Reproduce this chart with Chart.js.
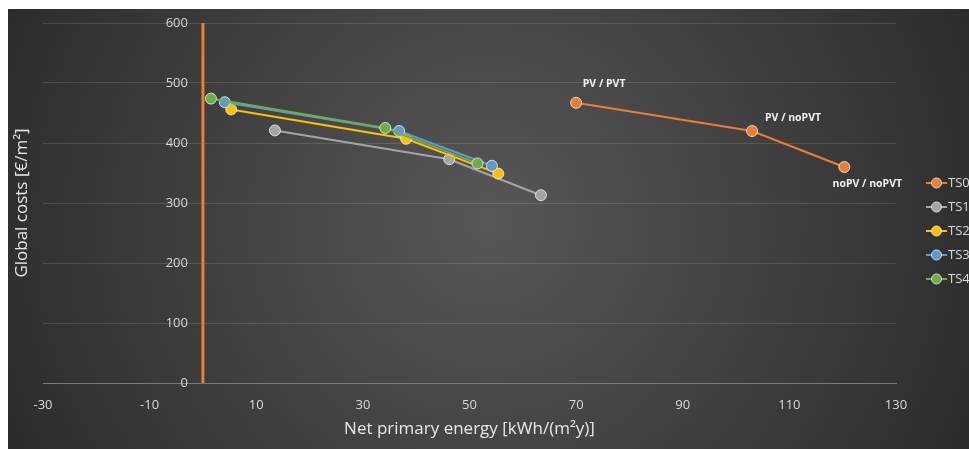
<!DOCTYPE html>
<html>
<head>
<meta charset="utf-8">
<script src="https://cdn.jsdelivr.net/npm/chart.js@4"></script>
<style>
	body { margin: 0; background: #ffffff; }
	.chart { position: absolute; left: 8px; top: 9px; width: 961px; height: 440px; }
</style>
</head>
<body>
<div class="chart"><canvas id="chartEnergy"></canvas></div>
<script>
const seriesNames = ['TS0', 'TS1', 'TS2', 'TS3', 'TS4'];
const seriesColors = ['#ED7D31', '#A5A5A5', '#FFC000', '#5B9BD5', '#70AD47'];

const ts0Energy = [70, 103, 120.3];
const ts0Costs = [467, 420, 360];
const ts0Labels = ['PV / PVT', 'PV / noPVT', 'noPV / noPVT'];

const ts1Energy = [13.5, 46.2, 63.4];
const ts1Costs = [421, 373, 313];

const ts2Energy = [5.3, 38.1, 55.4];
const ts2Costs = [456, 407, 349];

const ts3Energy = [4.1, 36.8, 54.2];
const ts3Costs = [468, 420, 362];

const ts4Energy = [1.5, 34.2, 51.5];
const ts4Costs = [474, 425, 366];

const zeroLineEnergy = [0, 0];
const zeroLineCosts = [0, 600];

const xTitle = 'Net primary energy [kWh/(m\u00B2y)]';
const yTitle = 'Global costs [\u20AC/m\u00B2]';

const toPoints = (xs, ys) => xs.map((x, i) => ({ x, y: ys[i] }));

const allEnergy = [ts0Energy, ts1Energy, ts2Energy, ts3Energy, ts4Energy];
const allCosts = [ts0Costs, ts1Costs, ts2Costs, ts3Costs, ts4Costs];

const datasets = seriesNames.map((name, i) => ({
	label: name,
	data: toPoints(allEnergy[i], allCosts[i]),
	borderColor: seriesColors[i],
	backgroundColor: seriesColors[i],
	pointBackgroundColor: seriesColors[i],
	pointBorderColor: 'rgba(235,235,235,0.85)',
	pointBorderWidth: 1,
	pointRadius: 5.5,
	borderWidth: 2,
	showLine: true,
	order: seriesNames.length - i,
}));

datasets.push({
	label: 'zero',
	data: toPoints(zeroLineEnergy, zeroLineCosts),
	borderColor: '#ED7D31',
	borderWidth: 3,
	pointRadius: 0,
	showLine: true,
	order: 10,
});

const fontFamily = "'Open Sans', 'Noto Sans', sans-serif";

const backgroundPlugin = {
	id: 'bg',
	beforeDraw: (chart) => {
		const { ctx, width, height } = chart;
		const g = ctx.createRadialGradient(width * 0.5, height * 0.48, 0, width * 0.5, height * 0.48, width * 0.56);
		g.addColorStop(0, '#575757');
		g.addColorStop(1, '#2b2b2b');
		ctx.save();
		ctx.fillStyle = g;
		ctx.fillRect(0, 0, width, height);
		ctx.restore();
	},
};

const extrasPlugin = {
	id: 'extras',
	afterDatasetsDraw: (chart) => {
		const { ctx, chartArea } = chart;
		const xScale = chart.scales.x;
		const yScale = chart.scales.y;
		ctx.save();

		// y tick labels, beside the axis at x = 0
		ctx.font = `13px ${fontFamily}`;
		ctx.fillStyle = '#d9d9d9';
		ctx.textAlign = 'right';
		ctx.textBaseline = 'middle';
		const axisX = xScale.getPixelForValue(0);
		yScale.ticks.forEach((t) => {
			ctx.fillText(t.label, axisX - 15, yScale.getPixelForValue(t.value));
		});

		// point labels for TS0
		const offsets = [[28, -19], [41, -13], [23, 17]];
		const meta = chart.getDatasetMeta(0);
		ctx.font = `bold 10.5px ${fontFamily}`;
		ctx.fillStyle = '#f2f2f2';
		ctx.textAlign = 'center';
		meta.data.forEach((pt, i) => {
			ctx.fillText(ts0Labels[i], pt.x + offsets[i][0], pt.y + offsets[i][1]);
		});

		// y axis title
		ctx.translate(14, (chartArea.top + chartArea.bottom) / 2);
		ctx.rotate(-Math.PI / 2);
		ctx.font = `17px ${fontFamily}`;
		ctx.fillStyle = '#e8e8e8';
		ctx.fillText(yTitle, 0, 0);
		ctx.restore();

		// legend
		ctx.save();
		ctx.font = `13px ${fontFamily}`;
		ctx.textBaseline = 'middle';
		ctx.textAlign = 'left';
		seriesNames.forEach((name, i) => {
			const y = 174 + i * 24;
			const x = 918;
			ctx.strokeStyle = seriesColors[i];
			ctx.lineWidth = 2;
			ctx.beginPath();
			ctx.moveTo(x, y);
			ctx.lineTo(x + 21, y);
			ctx.stroke();
			ctx.beginPath();
			ctx.arc(x + 10.5, y, 5, 0, Math.PI * 2);
			ctx.fillStyle = seriesColors[i];
			ctx.fill();
			ctx.strokeStyle = 'rgba(235,235,235,0.85)';
			ctx.lineWidth = 1;
			ctx.stroke();
			ctx.fillStyle = '#d9d9d9';
			ctx.fillText(name, x + 22, y);
		});
		ctx.restore();
	},
};

const config = {
	type: 'scatter',
	data: { datasets },
	options: {
		animation: false,
		responsive: true,
		maintainAspectRatio: false,
		layout: { padding: { left: 35, right: 73, top: 14, bottom: 10 } },
		plugins: {
			legend: { display: false },
			tooltip: { enabled: false },
		},
		scales: {
			x: {
				type: 'linear',
				min: -30,
				max: 130,
				ticks: { stepSize: 20, color: '#d9d9d9', font: { family: fontFamily, size: 13 }, padding: 6 },
				grid: { display: false },
				border: { color: '#7a7a7a', width: 1 },
				title: { display: true, text: xTitle, color: '#e8e8e8', font: { family: fontFamily, size: 17 }, padding: { top: 0, bottom: 0 } },
			},
			y: {
				type: 'linear',
				position: { x: 0 },
				min: 0,
				max: 600,
				ticks: { stepSize: 100, display: false },
				grid: { color: 'rgba(255,255,255,0.13)', drawTicks: false },
				border: { display: false },
			},
		},
	},
	plugins: [backgroundPlugin, extrasPlugin],
};

const ctx = document.getElementById('chartEnergy').getContext('2d');
const myChart = new Chart(ctx, config);
</script>
</body>
</html>
